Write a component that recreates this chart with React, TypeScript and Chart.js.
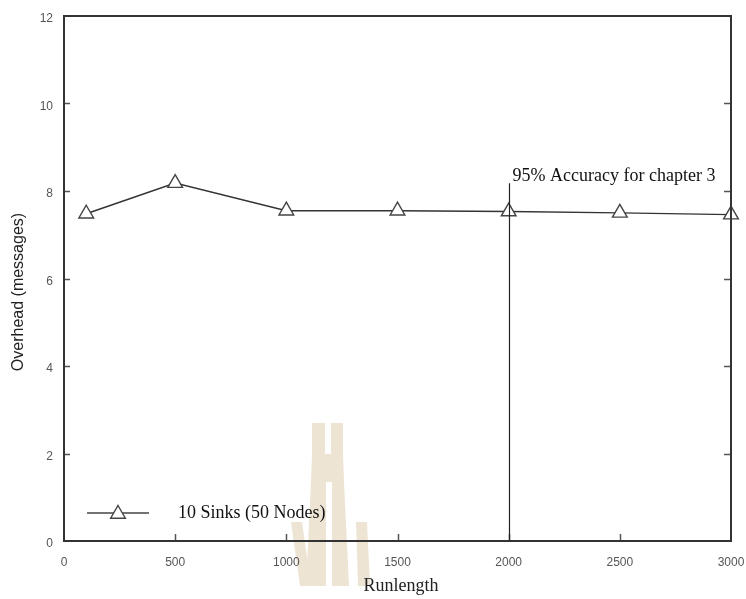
import { useEffect, useRef } from "react";
import { Chart, registerables } from "chart.js";
import { drawPoint } from "chart.js/helpers";

Chart.register(...registerables);

// Overhead vs. run length for one sink configuration
const runLengths = [100, 500, 1000, 1500, 2000, 2500, 3000];
const overhead = [7.48, 8.18, 7.55, 7.55, 7.53, 7.5, 7.46];
const seriesLabel = "10 Sinks (50 Nodes)";

const xTickValues = [0, 500, 1000, 1500, 2000, 2500, 3000];
const yTickValues = [0, 2, 4, 6, 8, 10, 12];

const xTitle = "Runlength";
const yTitle = "Overhead (messages)";

// Vertical reference line with its caption
const markerRunLength = 2000;
const markerTopValue = 8.18;
const markerText = "95% Accuracy for chapter 3";

const SERIF = '"Liberation Serif", "Times New Roman", serif';
const SANS = '"Liberation Sans", Arial, sans-serif';

const pointOpts = {
  pointStyle: "triangle" as const,
  radius: 8.5,
  rotation: 0,
  borderWidth: 1.4,
};

const decorPlugin = {
  id: "decor",
  beforeDraw(chart: Chart) {
    // faint logo stamp behind the plot
    const ctx = chart.ctx;
    const shapes: number[][][] = [
      [[312, 423], [325, 423], [325, 454], [312, 454]],
      [[331, 423], [343, 423], [343, 454], [331, 454]],
      [[312, 454], [343, 454], [344, 482], [311, 482]],
      [[311, 482], [326, 482], [326, 586], [306, 586]],
      [[332, 482], [344, 482], [349, 586], [332, 586]],
      [[291, 522], [302, 522], [311, 586], [300, 586]],
      [[356, 522], [367, 522], [370, 586], [358, 586]],
    ];
    ctx.save();
    ctx.fillStyle = "#ede4d3";
    shapes.forEach((s) => {
      ctx.beginPath();
      s.forEach(([px, py], i) => (i ? ctx.lineTo(px, py) : ctx.moveTo(px, py)));
      ctx.closePath();
      ctx.fill();
    });
    ctx.restore();
  },
  afterDraw(chart: Chart) {
    const { ctx, chartArea: a } = chart;
    const xs = chart.scales.x;
    const ys = chart.scales.y;
    ctx.save();

    // inward tick marks
    ctx.strokeStyle = "#555";
    ctx.lineWidth = 1.5;
    ctx.beginPath();
    yTickValues.slice(1, -1).forEach((v) => {
      const py = Math.round(ys.getPixelForValue(v)) + 0.5;
      ctx.moveTo(a.left, py);
      ctx.lineTo(a.left + 6, py);
      ctx.moveTo(a.right, py);
      ctx.lineTo(a.right - 7, py);
    });
    xTickValues.slice(1, -1).forEach((v) => {
      const px = Math.round(xs.getPixelForValue(v)) + 0.5;
      ctx.moveTo(px, a.bottom);
      ctx.lineTo(px, a.bottom - 7);
    });
    ctx.stroke();

    // plot frame
    ctx.strokeStyle = "#333";
    ctx.lineWidth = 2;
    ctx.strokeRect(a.left, a.top, a.right - a.left, a.bottom - a.top);

    // reference line
    const mx = Math.round(xs.getPixelForValue(markerRunLength)) + 0.5;
    const mTop = ys.getPixelForValue(markerTopValue);
    ctx.strokeStyle = "#222";
    ctx.lineWidth = 1.2;
    ctx.beginPath();
    ctx.moveTo(mx, mTop);
    ctx.lineTo(mx, a.bottom);
    ctx.stroke();
    ctx.fillStyle = "#111";
    ctx.font = `18px ${SERIF}`;
    ctx.textAlign = "left";
    ctx.textBaseline = "alphabetic";
    ctx.fillText(markerText, mx + 3, mTop - 2);

    // legend
    const ly = a.bottom - 28;
    ctx.strokeStyle = "#444";
    ctx.lineWidth = 1.5;
    ctx.beginPath();
    ctx.moveTo(a.left + 23, ly);
    ctx.lineTo(a.left + 85, ly);
    ctx.stroke();
    ctx.fillStyle = "#fff";
    ctx.strokeStyle = "#444";
    ctx.lineWidth = pointOpts.borderWidth;
    drawPoint(ctx, pointOpts as any, a.left + 54, ly + 1);
    ctx.fillStyle = "#111";
    ctx.font = `18px ${SERIF}`;
    ctx.textBaseline = "middle";
    ctx.fillText(seriesLabel, a.left + 114, ly);

    // axis titles
    ctx.fillStyle = "#222";
    ctx.textAlign = "center";
    ctx.font = `18px ${SERIF}`;
    ctx.fillText(xTitle, 401, 586);
    ctx.translate(19, 292);
    ctx.rotate(-Math.PI / 2);
    ctx.font = `16px ${SANS}`;
    ctx.fillText(yTitle, 0, 0);

    ctx.restore();
  },
};

export default function App() {
  const canvasRef = useRef<HTMLCanvasElement | null>(null);

  useEffect(() => {
    const canvas = canvasRef.current;
    if (!canvas) return;
    const chart = new Chart(canvas, {
      type: "line",
      data: {
        datasets: [
          {
            label: seriesLabel,
            data: runLengths.map((r, i) => ({ x: r, y: overhead[i] })),
            borderColor: "#333",
            borderWidth: 1.5,
            backgroundColor: "#fff",
            pointStyle: "triangle",
            pointRadius: 8.5,
            pointBorderColor: "#444",
            pointBackgroundColor: "#fff",
            pointBorderWidth: 1.4,
            tension: 0,
            clip: false as any,
          },
        ],
      },
      options: {
        responsive: false,
        animation: false,
        devicePixelRatio: 1,
        layout: { padding: { left: 0, right: 15, top: 16, bottom: 0 } },
        plugins: {
          legend: { display: false },
          tooltip: { enabled: false },
        },
        scales: {
          x: {
            type: "linear",
            min: 0,
            max: 3000,
            grid: { display: false, drawTicks: false },
            border: { display: false },
            ticks: {
              stepSize: 500,
              padding: 14,
              color: "#555",
              font: { family: SANS, size: 12 },
              maxRotation: 0,
              callback: (v: any) => String(v),
            },
            afterFit: (scale: any) => {
              scale.height = 58;
              scale.paddingLeft = 0;
              scale.paddingRight = 0;
            },
          },
          y: {
            type: "linear",
            min: 0,
            max: 12,
            grid: { display: false, drawTicks: false },
            border: { display: false },
            ticks: {
              stepSize: 2,
              padding: 11,
              labelOffset: 3,
              color: "#555",
              font: { family: SANS, size: 12 },
              callback: (v: any) => String(v),
            },
            afterFit: (scale: any) => {
              scale.width = 64;
              scale.paddingTop = 0;
              scale.paddingBottom = 0;
            },
          },
        },
      },
      plugins: [decorPlugin],
    });
    return () => chart.destroy();
  }, []);

  return (
    <div
      style={{
        position: "fixed",
        left: 0,
        top: 0,
        width: 746,
        height: 599,
        background: "#fff",
      }}
    >
      <canvas ref={canvasRef} width={746} height={599} />
    </div>
  );
}
